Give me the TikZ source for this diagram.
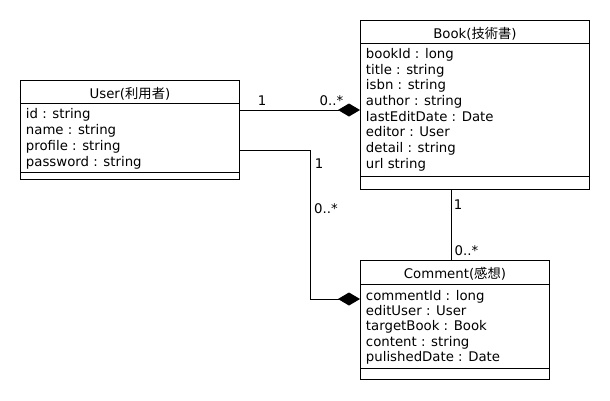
\documentclass[tikz,border=0pt]{standalone}
\usepackage{fontspec}
\setmainfont{DejaVu Sans}
\newfontfamily\jpfont{Noto Sans CJK JP}
\usetikzlibrary{arrows.meta}

\begin{document}
\begin{tikzpicture}[x=1pt, y=-1pt, line width=0.9pt,
	classbox/.style={draw, rectangle, inner sep=0, anchor=north west},
	title/.style={font=\fontsize{13.3}{15.7}\selectfont, anchor=base, inner sep=0},
	attr/.style={font=\fontsize{13.3}{15.7}\selectfont, anchor=base west, inner sep=0},
	mult/.style={font=\fontsize{13.3}{15.7}\selectfont, anchor=base, inner sep=0},
	comp/.style={-{Diamond[width=13pt,length=22pt]}}
]
\useasboundingbox (0,0) rectangle (610,400);

% classes
\node[classbox, minimum width=219, minimum height=99] (user) at (20,80) {};
\node[classbox, minimum width=229, minimum height=169] (book) at (360,20) {};
\node[classbox, minimum width=189, minimum height=119] (comment) at (360,260) {};

\draw ([yshift=-23]user.north west) -- ([yshift=-23]user.north east);
\draw ([yshift=7]user.south west) -- ([yshift=7]user.south east);
\draw ([yshift=-23]book.north west) -- ([yshift=-23]book.north east);
\draw ([yshift=13]book.south west) -- ([yshift=13]book.south east);
\draw ([yshift=-24]comment.north west) -- ([yshift=-24]comment.north east);
\draw ([yshift=11]comment.south west) -- ([yshift=11]comment.south east);

\node[title] (user-name) at ([yshift=-18.3]user.north) {User({\jpfont 利用者})};
\node[title] (book-name) at ([yshift=-18.3]book.north) {Book({\jpfont 技術書})};
\node[title] (comment-name) at ([yshift=-18.3]comment.north) {Comment({\jpfont 感想})};

\foreach \a [count=\i] in {id : string, name : string, profile : string, password : string}
	\node[attr] (user-a\i) at ([xshift=5.5, yshift={-38-16*(\i-1)}]user.north west) {\a};
\foreach \a [count=\i] in {bookId : long, title : string, isbn : string, author : string,
		lastEditDate : Date, editor : User, detail : string, url string}
	\node[attr] (book-a\i) at ([xshift=5.5, yshift={-38.3-15.7*(\i-1)}]book.north west) {\a};
\foreach \a [count=\i] in {commentId : long, editUser : User, targetBook : Book,
		content : string, pulishedDate : Date}
	\node[attr] (comment-a\i) at ([xshift=5.5, yshift={-40-15.4*(\i-1)}]comment.north west) {\a};

% associations
\coordinate (ub) at ([yshift=-30]user.north east);
\draw[comp] (ub) -- (ub -| book.west);
\coordinate (uc) at ([yshift=-70]user.north east);
\coordinate (cu) at ([yshift=-39]comment.north west);
\draw[comp] (uc) -- ++(71,0) |- (cu);
\draw ([xshift=-23.5]book.south) -- ([xshift=-23.5]book.south |- comment.north);

\node[mult] (ub-m1) at (262,105.5) {1};
\node[mult] (ub-m2) at (331.5,105.5) {0..*};
\node[mult] (uc-m1) at (319,168) {1};
\node[mult] (uc-m2) at (326,213) {0..*};
\node[mult] (bc-m1) at (458,209) {1};
\node[mult] (bc-m2) at (466.5,255) {0..*};
\end{tikzpicture}
\end{document}
